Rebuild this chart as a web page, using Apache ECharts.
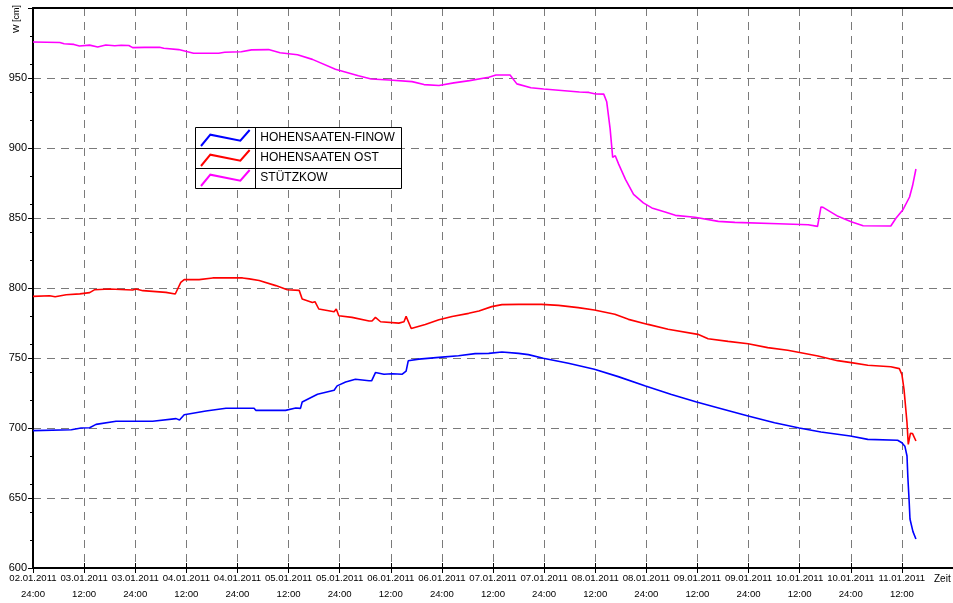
<!DOCTYPE html>
<html>
<head>
<meta charset="utf-8">
<script src="https://cdn.jsdelivr.net/npm/echarts@6/dist/echarts.min.js"></script>
<style>
    html, body { margin: 0; padding: 0; background: #fff; }
    #pegel { width: 953px; height: 603px; }
</style>
</head>
<body>
<div id="pegel"></div>
<script>
    // Zeitachse in Stunden ab 02.01.2011 24:00, Wasserstand W in cm
    var xDates = ['02.01.2011', '03.01.2011', '03.01.2011', '04.01.2011', '04.01.2011', '05.01.2011',
        '05.01.2011', '06.01.2011', '06.01.2011', '07.01.2011', '07.01.2011', '08.01.2011',
        '08.01.2011', '09.01.2011', '09.01.2011', '10.01.2011', '10.01.2011', '11.01.2011'];
    var xTimes = ['24:00', '12:00', '24:00', '12:00', '24:00', '12:00', '24:00', '12:00', '24:00',
        '12:00', '24:00', '12:00', '24:00', '12:00', '24:00', '12:00', '24:00', '12:00'];
    var yTicks = [600, 650, 700, 750, 800, 850, 900, 950];
    var seriesNames = ['HOHENSAATEN-FINOW', 'HOHENSAATEN OST', 'STÜTZKOW'];

    var finow = [
        [0, 698.1], [9.0, 698.8], [11.3, 700.0], [13.3, 700.2], [14.8, 702.6], [19.5, 704.8],
        [28.1, 704.8], [33.6, 706.7], [34.4, 705.7], [35.5, 709.5], [40.6, 712.2], [45.3, 714.1],
        [51.9, 714.1], [52.3, 712.6], [59.3, 712.6], [61.7, 714.3], [62.8, 714.0], [63.2, 718.6],
        [66.8, 724.1], [70.7, 727.0], [71.4, 730.1], [73.4, 732.9], [75.7, 734.8], [78.9, 733.7],
        [79.5, 733.7], [80.4, 739.6], [82.4, 738.4], [84.3, 738.7], [86.7, 738.4], [87.6, 740.6],
        [88.1, 748.0], [90.6, 749.2], [96.0, 750.6], [99.9, 751.6], [103.8, 753.1], [107.0, 753.3],
        [110.1, 754.3], [114.0, 753.3], [116.3, 752.4], [119.8, 749.8], [125.7, 746.2], [131.8, 741.9],
        [137.4, 736.7], [143.8, 730.0], [149.9, 724.0], [155.8, 718.6], [161.6, 713.8], [167.9, 708.6],
        [174.1, 703.8], [179.9, 700.0], [185.0, 697.1], [191.9, 694.3], [196.0, 691.9], [203.0, 691.2],
        [204.0, 689.5], [204.7, 687.0], [205.2, 680.0], [205.4, 665.0], [205.7, 648.0], [205.9, 635.0],
        [206.6, 626.0], [207.3, 620.7]
    ];
    var ost = [
        [0, 794.0], [3.9, 794.5], [5.2, 793.8], [7.8, 795.2], [11.0, 795.8], [13.3, 796.7],
        [14.5, 798.8], [18.0, 799.3], [21.9, 798.8], [23.4, 798.6], [24.2, 799.3], [25.8, 798.1],
        [31.2, 796.9], [33.4, 795.7], [34.7, 804.0], [35.5, 806.0], [39.0, 806.0], [42.2, 807.2],
        [49.2, 807.2], [50.8, 806.5], [53.1, 805.3], [57.0, 801.7], [59.7, 798.8], [62.5, 798.3],
        [63.2, 792.1], [65.6, 789.7], [66.2, 790.2], [67.1, 785.0], [70.7, 783.0], [71.2, 785.0],
        [71.8, 780.2], [74.9, 779.0], [78.9, 776.4], [79.6, 776.4], [80.4, 779.0], [81.6, 775.9],
        [85.9, 774.9], [87.1, 775.9], [87.6, 779.7], [88.8, 771.1], [92.1, 774.0], [95.3, 777.3],
        [98.4, 779.7], [102.3, 781.9], [104.7, 783.6], [107.7, 786.7], [110.1, 788.1], [114.0, 788.3],
        [119.4, 788.3], [123.4, 787.6], [128.0, 786.0], [131.8, 784.3], [136.6, 781.2], [139.8, 777.6],
        [144.4, 774.0], [149.1, 770.5], [156.1, 766.9], [158.5, 763.8], [163.2, 761.9], [167.9, 760.2],
        [172.5, 757.4], [177.2, 755.5], [180.3, 753.8], [184.3, 751.4], [188.9, 748.1], [192.1, 746.7],
        [196.0, 744.8], [201.4, 743.8], [203.4, 742.4], [204.0, 738.3], [204.5, 727.6], [205.2, 703.8],
        [205.5, 688.3], [206.0, 696.2], [206.5, 696.0], [207.3, 690.7]
    ];
    var stuetzkow = [
        [0, 975.7], [6.3, 975.4], [7.3, 974.5], [9.6, 974.0], [10.9, 972.9], [13.3, 973.5],
        [15.2, 972.2], [17.1, 973.6], [19.2, 973.0], [20.7, 973.4], [22.5, 973.2], [23.4, 971.7],
        [26.2, 971.9], [29.7, 972.0], [30.7, 971.2], [34.2, 970.3], [37.7, 967.7], [43.6, 967.7],
        [45.0, 968.4], [48.9, 968.7], [51.3, 970.1], [55.3, 970.3], [58.0, 968.0], [62.1, 966.6],
        [65.6, 963.3], [71.0, 956.3], [76.4, 951.6], [79.4, 949.3], [83.6, 948.6], [89.0, 947.4],
        [91.8, 945.3], [95.3, 944.6], [98.8, 946.5], [102.5, 948.1], [107.0, 950.5], [108.7, 952.1],
        [112.0, 952.1], [113.6, 945.8], [116.9, 943.0], [119.9, 942.1], [124.8, 940.9], [128.3, 940.0],
        [130.5, 939.7], [132.1, 938.6], [134.0, 938.5], [134.7, 933.0], [135.5, 913.7], [136.1, 893.3],
        [136.7, 894.5], [137.5, 888.5], [139.1, 877.6], [141.0, 866.8], [143.3, 860.8], [145.3, 857.2],
        [148.4, 854.3], [150.8, 851.9], [155.4, 850.5], [160.9, 847.6], [164.8, 846.9], [175.0, 845.9],
        [182.0, 845.2], [184.2, 844.0], [185.0, 857.9], [185.5, 857.6], [189.0, 851.2], [192.1, 847.4],
        [194.9, 844.5], [201.4, 844.3], [202.6, 849.8], [204.2, 855.7], [205.8, 865.0], [206.5, 873.0],
        [207.3, 885.0]
    ];

    var chart = echarts.init(document.getElementById('pegel'));
    var font = "'Liberation Sans', Arial, sans-serif";
    var gridLine = {show: true, lineStyle: {color: '#7a7a7a', width: 1, type: [8, 6]}};
    var zigzag = 'path://M0,48L28,14L118,32L146,0';
    var plotRect = {left: 33, top: 8, width: 922, bottom: 35};

    chart.setOption({
        animation: false,
        textStyle: {fontFamily: font, color: '#000'},
        // zweites Gitter nur fuer die kleinen Striche
        grid: [plotRect, plotRect],
        legend: {
            orient: 'vertical',
            left: 200,
            top: 129,
            padding: 0,
            itemWidth: 50,
            itemHeight: 16,
            itemGap: 2,
            selectedMode: false,
            textStyle: {fontFamily: font, fontSize: 12, color: '#000', padding: [0, 0, 0, 5]},
            data: [
                {name: seriesNames[0], icon: zigzag, itemStyle: {color: 'transparent', borderColor: '#0000ff', borderWidth: 2}},
                {name: seriesNames[1], icon: zigzag, itemStyle: {color: 'transparent', borderColor: '#ff0000', borderWidth: 2}},
                {name: seriesNames[2], icon: zigzag, itemStyle: {color: 'transparent', borderColor: '#ff00ff', borderWidth: 2}}
            ]
        },
        graphic: [
            {type: 'rect', z: 3, shape: {x: 195.5, y: 127.5, width: 206, height: 61}, style: {fill: '#fff', stroke: '#000', lineWidth: 1}},
            {type: 'line', z: 3, shape: {x1: 255.5, y1: 127.5, x2: 255.5, y2: 188.5}, style: {stroke: '#000', lineWidth: 1}},
            {type: 'line', z: 3, shape: {x1: 195.5, y1: 148.5, x2: 401.5, y2: 148.5}, style: {stroke: '#000', lineWidth: 1}},
            {type: 'line', z: 3, shape: {x1: 195.5, y1: 168.5, x2: 401.5, y2: 168.5}, style: {stroke: '#000', lineWidth: 1}},
            {type: 'text', left: 934, top: 574, style: {text: 'Zeit', font: '10px ' + font, fill: '#000'}},
            {type: 'text', x: 12, y: 33, rotation: Math.PI / 2, style: {text: 'W [cm]', font: '9px ' + font, fill: '#000'}}
        ],
        xAxis: [
            {
                type: 'value',
                min: 0,
                max: 216,
                interval: 12,
                axisLine: {lineStyle: {color: '#000', width: 2}},
                axisTick: {length: 5, lineStyle: {color: '#000'}},
                axisLabel: {
                    fontSize: 9.6,
                    lineHeight: 16,
                    margin: 2,
                    color: '#000',
                    showMinLabel: true,
                    showMaxLabel: false,
                    formatter: function (v) {
                        var i = Math.round(v / 12);
                        if (v % 12 !== 0 || i >= xDates.length) return '';
                        return xDates[i] + '\n' + xTimes[i];
                    }
                },
                splitLine: gridLine
            },
            {
                type: 'value',
                position: 'top',
                min: 0,
                max: 216,
                axisLine: {show: true, lineStyle: {color: '#000', width: 2}},
                axisTick: {show: false},
                axisLabel: {show: false},
                splitLine: {show: false}
            },
            {
                // Striche nach innen
                gridIndex: 1,
                type: 'value',
                position: 'bottom',
                min: 0,
                max: 216,
                interval: 12,
                axisLine: {show: false},
                axisTick: {show: true, inside: true, length: 5, lineStyle: {color: '#000'}},
                axisLabel: {show: false},
                splitLine: {show: false}
            }
        ],
        yAxis: [
            {
                type: 'value',
                min: 600,
                max: 1000,
                interval: 50,
                axisLine: {show: true, lineStyle: {color: '#000', width: 2}},
                axisTick: {show: true, length: 5, lineStyle: {color: '#000'}},
                axisLabel: {
                    fontSize: 11,
                    margin: 6,
                    color: '#000',
                    formatter: function (v) {
                        return yTicks.indexOf(v) >= 0 ? String(v) : '';
                    }
                },
                splitLine: gridLine
            },
            {
                // kleine Striche alle 20 cm
                gridIndex: 1,
                type: 'value',
                min: 600,
                max: 1000,
                interval: 20,
                position: 'left',
                axisLine: {show: false},
                axisTick: {show: true, length: 3, lineStyle: {color: '#000'}},
                axisLabel: {show: false},
                splitLine: {show: false}
            }
        ],
        series: [
            {name: seriesNames[0], type: 'line', data: finow, showSymbol: false, color: '#0000ff', lineStyle: {width: 1.6}},
            {name: seriesNames[1], type: 'line', data: ost, showSymbol: false, color: '#ff0000', lineStyle: {width: 1.6}},
            {name: seriesNames[2], type: 'line', data: stuetzkow, showSymbol: false, color: '#ff00ff', lineStyle: {width: 1.6}}
        ]
    });
</script>
</body>
</html>
